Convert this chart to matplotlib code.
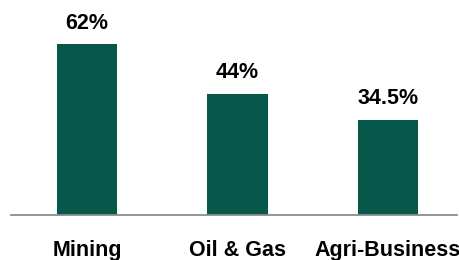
import matplotlib.pyplot as plt

categories = ["Mining", "Oil & Gas", "Agri-Business"]
values = [62, 44, 34.5]
value_labels = ["62%", "44%", "34.5%"]

bar_color = "#06584A"
plt.rcParams['font.family'] = ['Liberation Sans', 'DejaVu Sans']

fig = plt.figure(figsize=(4.59, 2.6), dpi=100)
ax = fig.add_axes([11 / 459, 45.5 / 260, 446 / 459, 214.5 / 260])

x = range(len(categories))
bars = ax.bar(x, values, width=0.4, color=bar_color)

for rect, lbl in zip(bars, value_labels):
    ax.annotate(lbl, (rect.get_x() + rect.get_width() / 2, rect.get_height()),
                xytext=(0, 11), textcoords='offset points',
                ha='center', va='baseline', fontsize=15.5, fontweight='bold',
                color='black', annotation_clip=False)

ax.set_xlim(-0.505, 2.458)
ax.set_ylim(0, 78)
ax.set_xticks(list(x))
ax.set_xticklabels(categories, fontsize=15.5, fontweight='bold')
for t in ax.get_xticklabels():
    t.set_va('baseline')
ax.tick_params(axis='x', length=0, pad=30)
ax.set_yticks([])

for side in ['top', 'right', 'left']:
    ax.spines[side].set_visible(False)
ax.spines['bottom'].set_color('#8c8c8c')
ax.spines['bottom'].set_linewidth(1.3)

fig.savefig('out.png', dpi=100)
